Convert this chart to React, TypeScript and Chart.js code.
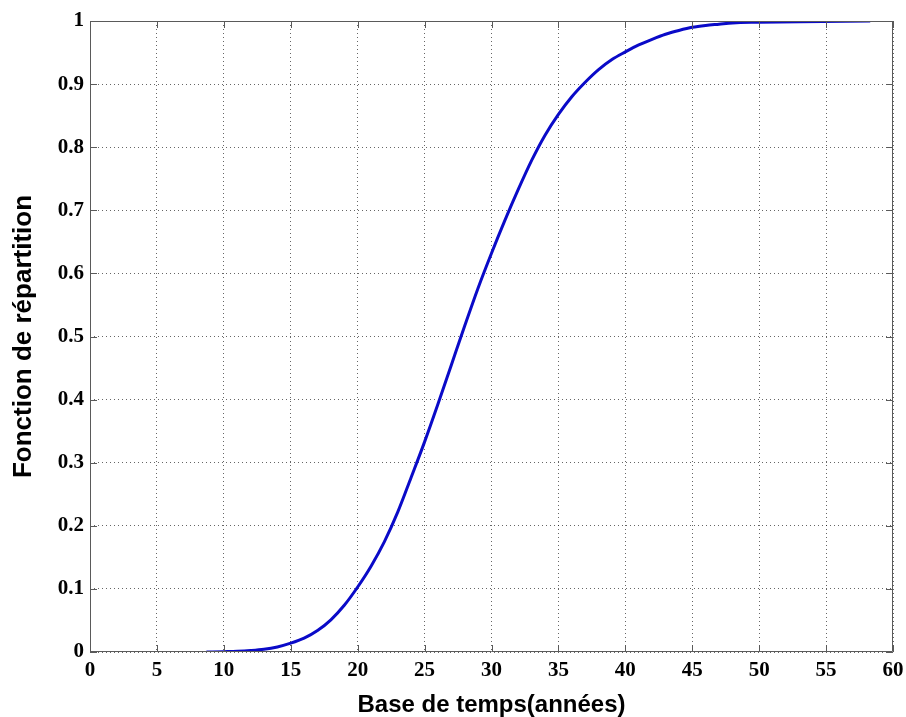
import React, { useEffect, useRef } from "react";
import { Chart, registerables } from "chart.js";

Chart.register(...registerables);

// Data
const timeYears = [
  8.7, 10, 11, 12, 13, 14, 15, 16, 17, 18, 19, 20, 21, 22, 23, 24, 25, 26, 27,
  28, 29, 30, 31, 32, 33, 34, 35, 36, 37, 38, 39, 40, 41, 42, 43, 44, 45, 46, 47,
  48, 50, 53, 58.3,
];
const cdfValues = [
  0.0, 0.0005, 0.001, 0.0022, 0.0042, 0.008, 0.014, 0.022, 0.034, 0.051, 0.074,
  0.103, 0.136, 0.175, 0.222, 0.277, 0.333, 0.393, 0.455, 0.517, 0.577, 0.632,
  0.684, 0.733, 0.779, 0.819, 0.852, 0.88, 0.903, 0.923, 0.939, 0.951, 0.962,
  0.971, 0.979, 0.985, 0.99, 0.993, 0.995, 0.997, 0.998, 0.999, 1.0,
];
const xTickValues = [0, 5, 10, 15, 20, 25, 30, 35, 40, 45, 50, 55, 60];
const yTickValues = [0, 0.1, 0.2, 0.3, 0.4, 0.5, 0.6, 0.7, 0.8, 0.9, 1];

const xTitle = "Base de temps(années)";
const yTitle = "Fonction de répartition";

const tickFont = {
  family: "'Liberation Serif', 'Times New Roman', serif",
  weight: "bold" as const,
  size: 21,
};
const xTitleFont = {
  family: "'Liberation Sans', Arial, sans-serif",
  weight: "bold" as const,
  size: 24,
  lineHeight: 1.0,
};
const yTitleFont = {
  family: "'Liberation Sans', Arial, sans-serif",
  weight: "bold" as const,
  size: 26,
  lineHeight: 1.0,
};

const boxPlugin = {
  id: "matlabBox",
  afterDraw(chart: any) {
    const { ctx, chartArea } = chart;
    const { left, right, top, bottom } = chartArea;
    const xs = chart.scales.x;
    const ys = chart.scales.y;
    const len = 7;
    ctx.save();
    ctx.strokeStyle = "#5a5a5a";
    ctx.lineWidth = 1;
    ctx.setLineDash([]);
    ctx.beginPath();
    ctx.rect(left + 0.5, top + 0.5, right - left - 1, bottom - top - 1);
    ctx.stroke();
    ctx.beginPath();
    xTickValues.forEach((v) => {
      const px = Math.round(xs.getPixelForValue(v)) + 0.5;
      ctx.moveTo(px, bottom);
      ctx.lineTo(px, bottom - len);
      ctx.moveTo(px, top);
      ctx.lineTo(px, top + len);
    });
    yTickValues.forEach((v) => {
      const py = Math.round(ys.getPixelForValue(v)) + 0.5;
      ctx.moveTo(left, py);
      ctx.lineTo(left + len, py);
      ctx.moveTo(right, py);
      ctx.lineTo(right - len, py);
    });
    ctx.stroke();
    ctx.restore();
  },
};

export default function App() {
  const canvasRef = useRef<HTMLCanvasElement | null>(null);

  useEffect(() => {
    const canvas = canvasRef.current;
    if (!canvas) return;
    const chart = new Chart(canvas, {
      type: "line",
      data: {
        datasets: [
          {
            data: timeYears.map((x, i) => ({ x, y: cdfValues[i] })),
            borderColor: "#0a0ac8",
            borderWidth: 3,
            pointRadius: 0,
            fill: false,
            cubicInterpolationMode: "monotone",
          },
        ],
      },
      options: {
        animation: false,
        responsive: false,
        devicePixelRatio: 1,
        layout: { padding: { left: 0, right: 13, top: 21, bottom: 0 } },
        plugins: {
          legend: { display: false },
          tooltip: { enabled: false },
        },
        scales: {
          x: {
            type: "linear",
            min: 0,
            max: 60,
            afterFit: (scale: any) => {
              scale.height = 65;
              scale.paddingLeft = 0;
              scale.paddingRight = 0;
            },
            afterBuildTicks: (scale: any) => {
              scale.ticks = xTickValues.map((v) => ({ value: v }));
            },
            ticks: {
              font: tickFont,
              color: "#000",
              padding: 6,
              maxRotation: 0,
              autoSkip: false,
            },
            grid: {
              drawTicks: false,
              color: "rgba(0,0,0,0.6)",
              lineWidth: 1,
            },
            border: { display: false, dash: [1, 3] },
            title: {
              display: true,
              text: xTitle,
              font: xTitleFont,
              color: "#000",
              padding: { top: 0, bottom: 0 },
            },
          },
          y: {
            type: "linear",
            min: 0,
            max: 1,
            afterFit: (scale: any) => {
              scale.width = 90;
              scale.paddingTop = 0;
              scale.paddingBottom = 0;
            },
            afterBuildTicks: (scale: any) => {
              scale.ticks = yTickValues.map((v) => ({ value: v }));
            },
            ticks: {
              font: tickFont,
              color: "#000",
              padding: 6,
              autoSkip: false,
              callback: (v: any) => String(Number(v)),
            },
            grid: {
              drawTicks: false,
              color: "rgba(0,0,0,0.6)",
              lineWidth: 1,
            },
            border: { display: false, dash: [1, 3] },
            title: {
              display: true,
              text: yTitle,
              font: yTitleFont,
              color: "#000",
              padding: { top: 11, bottom: 0 },
            },
          },
        },
      },
      plugins: [boxPlugin],
    } as any);
    return () => chart.destroy();
  }, []);

  return (
    <div
      style={{
        position: "fixed",
        left: 0,
        top: 0,
        width: 906,
        height: 717,
        background: "#fff",
      }}
    >
      <canvas ref={canvasRef} width={906} height={717} />
    </div>
  );
}
